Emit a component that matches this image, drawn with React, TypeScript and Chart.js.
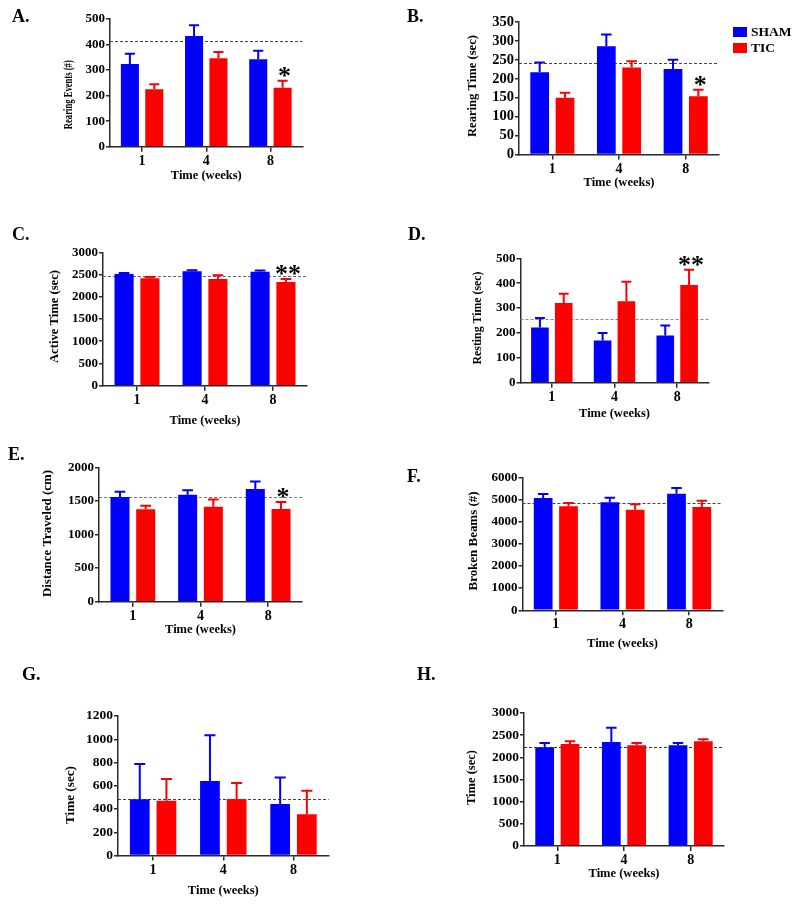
import React, { useEffect, useRef } from 'react';
import { Chart, registerables } from 'chart.js';
Chart.register(...registerables);

const FONT = "'Liberation Serif', 'Times New Roman', serif";
const BLUE = '#0000ff';
const RED = '#ff0000';
const AXIS = '#2a2a2a';

// ---------- data ----------
const weeks = ['1', '4', '8'];
const seriesNames = ['SHAM', 'TIC'];

// A. Rearing events
const rearingEventsSham = [324, 433, 342];
const rearingEventsShamSem = [40, 43, 34];
const rearingEventsTic = [225, 346, 231];
const rearingEventsTicSem = [20, 25, 27];
const rearingEventsRef = 415;
const rearingEventsSig = ['', '', '*'];

// B. Rearing time
const rearingTimeSham = [217, 286, 226];
const rearingTimeShamSem = [26, 31, 24];
const rearingTimeTic = [150, 230, 154];
const rearingTimeTicSem = [13, 16, 17];
const rearingTimeRef = 242;
const rearingTimeSig = ['', '', '*'];

// C. Active time
const activeTimeSham = [2513, 2573, 2565];
const activeTimeShamSem = [22, 22, 23];
const activeTimeTic = [2415, 2400, 2333];
const activeTimeTicSem = [30, 83, 67];
const activeTimeRef = 2461;
const activeTimeSig = ['', '', '**'];

// D. Resting time
const restingTimeSham = [222, 170, 190];
const restingTimeShamSem = [38, 30, 40];
const restingTimeTic = [320, 327, 393];
const restingTimeTicSem = [38, 79, 61];
const restingTimeRef = 256;
const restingTimeSig = ['', '', '**'];

// E. Distance traveled
const distanceSham = [1558, 1593, 1677];
const distanceShamSem = [80, 65, 110];
const distanceTic = [1375, 1414, 1380];
const distanceTicSem = [54, 105, 104];
const distanceRef = 1563;
const distanceSig = ['', '', '*'];

// F. Broken beams
const beamsSham = [5068, 4872, 5263];
const beamsShamSem = [180, 211, 256];
const beamsTic = [4692, 4541, 4662];
const beamsTicSem = [150, 241, 285];
const beamsRef = 4827;
const beamsSig = ['', '', ''];

// G. Time
const timeGSham = [484, 641, 444];
const timeGShamSem = [303, 393, 226];
const timeGTic = [470, 487, 355];
const timeGTicSem = [189, 137, 203];
const timeGRef = 487;
const timeGSig = ['', '', ''];

// H. Time
const timeHSham = [2226, 2346, 2271];
const timeHShamSem = [97, 323, 52];
const timeHTic = [2301, 2271, 2361];
const timeHTicSem = [60, 52, 45];
const timeHRef = 2226;
const timeHSig = ['', '', ''];

const yMaxes = [500, 350, 3000, 500, 2000, 6000, 1200, 3000];
const ySteps = [100, 50, 500, 100, 500, 1000, 200, 500];
const yTitles = [
  'Rearing Events (#)',
  'Rearing Time (sec)',
  'Active Time (sec)',
  'Resting Time (sec)',
  'Distance Traveled (cm)',
  'Broken Beams (#)',
  'Time (sec)',
  'Time (sec)',
];
const xTitle = 'Time (weeks)';
const panelIds = ['A', 'B', 'C', 'D', 'E', 'F', 'G', 'H'];

// ---------- layout (page pixels) ----------
type Geo = {
  canvas: [number, number, number, number];
  L: number; R: number; T: number; B: number;
  ytCX: number; ytCY: number; ytLen: number;
  xtCY: number;
  label: [number, number];
  yTickSize: number;
  refColor: string;
  legend?: boolean;
};
const geos: Geo[] = [
  { canvas: [0, 0, 400, 200], L: 110, R: 302.5, T: 19, B: 146.7, ytCX: 69, ytCY: 94.7, ytLen: 69, xtCY: 175.5, label: [12, 10], yTickSize: 13, refColor: '#444' },
  { canvas: [400, 0, 400, 200], L: 519, R: 719, T: 22, B: 154.5, ytCX: 472.5, ytCY: 86, ytLen: 102, xtCY: 183, label: [407, 10], yTickSize: 14.5, refColor: '#444', legend: true },
  { canvas: [0, 200, 400, 230], L: 103, R: 307, T: 252.3, B: 385.7, ytCX: 55, ytCY: 316.5, ytLen: 93, xtCY: 421, label: [12, 228], yTickSize: 13, refColor: '#666' },
  { canvas: [400, 200, 400, 230], L: 520.5, R: 708.5, T: 258.3, B: 382.7, ytCX: 478, ytCY: 318, ytLen: 93, xtCY: 413.3, label: [408, 228], yTickSize: 13, refColor: '#888' },
  { canvas: [0, 430, 400, 220], L: 99, R: 302, T: 467.3, B: 601.7, ytCX: 48, ytCY: 533.5, ytLen: 127, xtCY: 630, label: [8, 448], yTickSize: 13, refColor: '#777' },
  { canvas: [400, 430, 400, 220], L: 522.5, R: 722.5, T: 477.3, B: 610.3, ytCX: 474, ytCY: 541, ytLen: 99, xtCY: 643.3, label: [407, 470], yTickSize: 13, refColor: '#444' },
  { canvas: [0, 650, 400, 256], L: 118, R: 328.6, T: 716, B: 855.5, ytCX: 71, ytCY: 795, ytLen: 58, xtCY: 890.7, label: [22, 668], yTickSize: 13.5, refColor: '#444' },
  { canvas: [400, 650, 400, 256], L: 524, R: 724, T: 713, B: 846, ytCX: 472, ytCY: 777.5, ytLen: 55, xtCY: 873.3, label: [417, 668], yTickSize: 13.5, refColor: '#333' },
];

const panelData = [
  { sham: rearingEventsSham, shamSem: rearingEventsShamSem, tic: rearingEventsTic, ticSem: rearingEventsTicSem, ref: rearingEventsRef, sig: rearingEventsSig },
  { sham: rearingTimeSham, shamSem: rearingTimeShamSem, tic: rearingTimeTic, ticSem: rearingTimeTicSem, ref: rearingTimeRef, sig: rearingTimeSig },
  { sham: activeTimeSham, shamSem: activeTimeShamSem, tic: activeTimeTic, ticSem: activeTimeTicSem, ref: activeTimeRef, sig: activeTimeSig },
  { sham: restingTimeSham, shamSem: restingTimeShamSem, tic: restingTimeTic, ticSem: restingTimeTicSem, ref: restingTimeRef, sig: restingTimeSig },
  { sham: distanceSham, shamSem: distanceShamSem, tic: distanceTic, ticSem: distanceTicSem, ref: distanceRef, sig: distanceSig },
  { sham: beamsSham, shamSem: beamsShamSem, tic: beamsTic, ticSem: beamsTicSem, ref: beamsRef, sig: beamsSig },
  { sham: timeGSham, shamSem: timeGShamSem, tic: timeGTic, ticSem: timeGTicSem, ref: timeGRef, sig: timeGSig },
  { sham: timeHSham, shamSem: timeHShamSem, tic: timeHTic, ticSem: timeHTicSem, ref: timeHRef, sig: timeHSig },
];

function makeDecor(idx: number) {
  const g = geos[idx];
  const d = panelData[idx];
  const [cx, cy] = g.canvas;
  return {
    id: 'decor' + idx,
    beforeDatasetsDraw(chart: any) {
      const { ctx, chartArea, scales } = chart;
      const y = Math.round(scales.y.getPixelForValue(d.ref)) + 0.5;
      ctx.save();
      ctx.strokeStyle = g.refColor;
      ctx.lineWidth = 1;
      ctx.setLineDash([3, 2]);
      ctx.beginPath();
      ctx.moveTo(chartArea.left, y);
      ctx.lineTo(chartArea.right, y);
      ctx.stroke();
      ctx.restore();
    },
    afterDatasetsDraw(chart: any) {
      const { ctx, scales } = chart;
      chart.data.datasets.forEach((ds: any, di: number) => {
        const meta = chart.getDatasetMeta(di);
        meta.data.forEach((bar: any, j: number) => {
          const v = ds.data[j];
          const e = ds.sem[j];
          const yTop = scales.y.getPixelForValue(v + e);
          const yBar = scales.y.getPixelForValue(v);
          const half = bar.width * 0.28;
          ctx.save();
          ctx.strokeStyle = ds.backgroundColor;
          ctx.lineWidth = 2;
          ctx.beginPath();
          ctx.moveTo(bar.x, yBar);
          ctx.lineTo(bar.x, yTop);
          ctx.moveTo(bar.x - half, yTop);
          ctx.lineTo(bar.x + half, yTop);
          ctx.stroke();
          const s = ds.sig ? ds.sig[j] : '';
          if (s) {
            const size = 26;
            ctx.fillStyle = '#000';
            ctx.font = `bold ${size}px ${FONT}`;
            ctx.textAlign = 'center';
            ctx.textBaseline = 'alphabetic';
            const gap = 4;
            ctx.fillText(s, bar.x + 2, yTop - gap + 0.27 * size);
          }
          ctx.restore();
        });
      });
    },
    afterDraw(chart: any) {
      const { ctx } = chart;
      // y-axis title
      ctx.save();
      ctx.translate(g.ytCX - cx, g.ytCY - cy);
      ctx.rotate(-Math.PI / 2);
      ctx.font = `bold 12.5px ${FONT}`;
      const w = ctx.measureText(yTitles[idx]).width;
      ctx.scale(g.ytLen / w, 1);
      ctx.fillStyle = '#000';
      ctx.textAlign = 'center';
      ctx.textBaseline = 'middle';
      ctx.fillText(yTitles[idx], 0, 0);
      ctx.restore();
      if (g.legend) {
        ctx.save();
        ctx.font = `bold 13.5px ${FONT}`;
        ctx.textBaseline = 'middle';
        ctx.textAlign = 'left';
        chart.data.datasets.forEach((ds: any, di: number) => {
          const bx = 733 - cx;
          const by = 27 + di * 16 - cy;
          ctx.fillStyle = ds.backgroundColor;
          ctx.fillRect(bx, by, 14, 10);
          ctx.fillStyle = '#000';
          ctx.fillText(ds.label, bx + 18, by + 5.5);
        });
        ctx.restore();
      }
    },
  };
}

function Panel({ idx }: { idx: number }) {
  const ref = useRef<HTMLCanvasElement>(null);
  const g = geos[idx];
  const d = panelData[idx];
  const [cx, cy, cw, ch] = g.canvas;
  useEffect(() => {
    if (!ref.current) return;
    const xTitleSize = 12.5;
    const chart = new Chart(ref.current, {
      type: 'bar',
      data: {
        labels: weeks,
        datasets: [
          { label: seriesNames[0], data: d.sham, backgroundColor: BLUE, borderWidth: 0, sem: d.shamSem, sig: null } as any,
          { label: seriesNames[1], data: d.tic, backgroundColor: RED, borderWidth: 0, sem: d.ticSem, sig: d.sig } as any,
        ],
      },
      options: {
        responsive: false,
        animation: false,
        maintainAspectRatio: false,
        devicePixelRatio: 1,
        datasets: { bar: { barPercentage: 0.74, categoryPercentage: 0.76 } },
        layout: { padding: { left: 0, top: g.T - cy, right: cx + cw - g.R, bottom: 0 } },
        plugins: { legend: { display: false }, tooltip: { enabled: false }, title: { display: false } },
        scales: {
          x: {
            type: 'category',
            offset: true,
            afterFit: (s: any) => { s.height = cy + ch - g.B; },
            grid: { display: true, offset: false, drawOnChartArea: false, drawTicks: true, tickLength: 5, color: AXIS, lineWidth: 1.5 },
            border: { display: true, color: AXIS, width: 1.5 },
            ticks: { color: '#000', font: { family: FONT, size: 14, weight: 'bold' }, padding: 1 },
            title: {
              display: true,
              text: xTitle,
              color: '#000',
              font: { family: FONT, size: xTitleSize, weight: 'bold' },
              padding: { top: 0, bottom: cy + ch - g.xtCY - (xTitleSize * 1.2) / 2 },
            },
          },
          y: {
            min: 0,
            max: yMaxes[idx],
            afterFit: (s: any) => { s.width = g.L - cx; },
            grid: { display: true, drawOnChartArea: false, drawTicks: true, tickLength: 4, color: AXIS, lineWidth: 1.5 },
            border: { display: true, color: AXIS, width: 1.5 },
            ticks: {
              stepSize: ySteps[idx],
              autoSkip: false,
              color: '#000',
              font: { family: FONT, size: g.yTickSize, weight: 'bold' },
              padding: 1,
              callback: (v: any) => String(v),
            },
          },
        },
      } as any,
      plugins: [makeDecor(idx)],
    });
    return () => chart.destroy();
  }, []);
  return (
    <canvas
      ref={ref}
      width={cw}
      height={ch}
      style={{ position: 'absolute', left: cx, top: cy, width: cw, height: ch }}
    />
  );
}

export default function App() {
  return (
    <div style={{ position: 'absolute', left: 0, top: 0, width: 800, height: 906, background: '#fff', overflow: 'hidden' }}>
      {geos.map((_, i) => <Panel key={i} idx={i} />)}
      {geos.map((g, i) => (
        <div
          key={'lab' + i}
          style={{
            position: 'absolute',
            left: g.label[0],
            top: g.label[1] - 3.2,
            font: `bold 18px ${FONT}`,
            lineHeight: '18px',
            color: '#000',
            whiteSpace: 'nowrap',
          }}
        >
          {panelIds[i]}.
        </div>
      ))}
    </div>
  );
}
